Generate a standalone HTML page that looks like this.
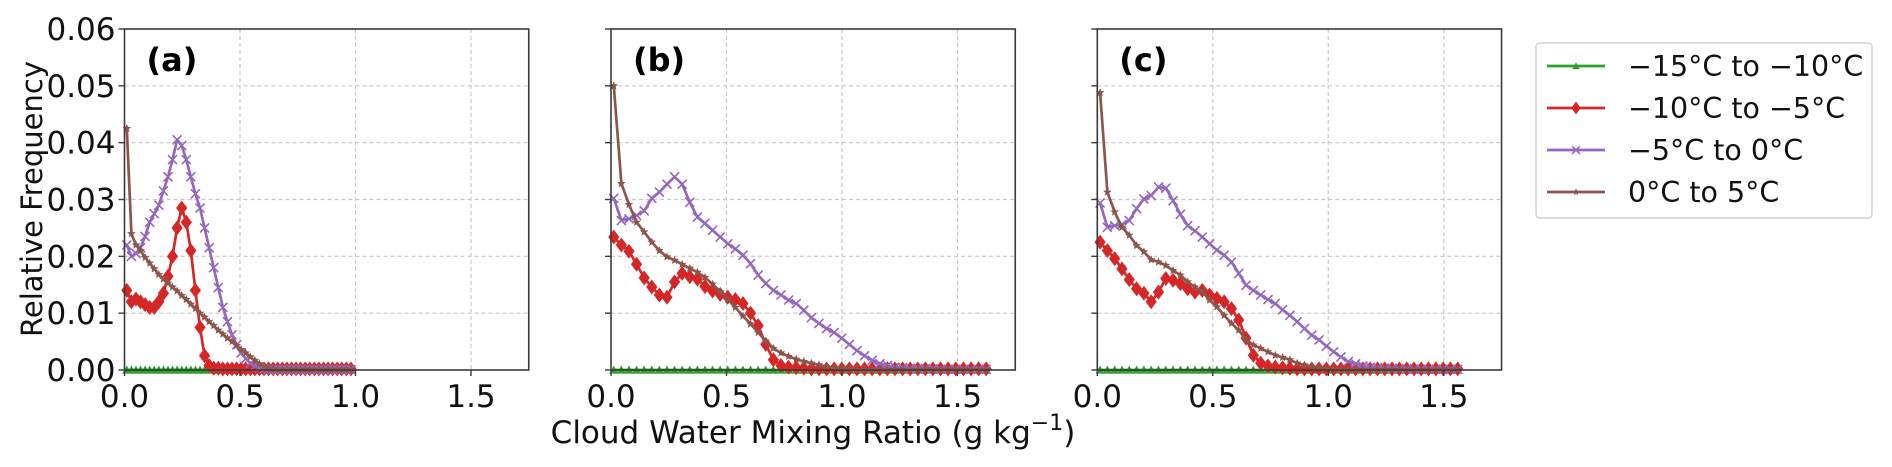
<!DOCTYPE html>
<html><head><meta charset="utf-8"><style>
html,body{margin:0;padding:0;background:#fff;}
svg{display:block;font-family:"DejaVu Sans","Liberation Sans",sans-serif;}
</style></head><body>
<svg id="chart" width="1892" height="467" viewBox="0 0 1892 467" xmlns="http://www.w3.org/2000/svg"></svg>
<script>
const panelLabels = ["(a)", "(b)", "(c)"];
const binWidths = [0.0198, 0.0329, 0.0316];
const binStarts = [0.01, 0.012, 0.012];
const xTicks = [0.0, 0.5, 1.0, 1.5];
const xTickLabels = ["0.0", "0.5", "1.0", "1.5"];
const yTicks = [0, 0.01, 0.02, 0.03, 0.04, 0.05, 0.06];
const yTickLabels = ["0.00", "0.01", "0.02", "0.03", "0.04", "0.05", "0.06"];
const seriesNames = ["\u221215\u00b0C to \u221210\u00b0C", "\u221210\u00b0C to \u22125\u00b0C", "\u22125\u00b0C to 0\u00b0C", "0\u00b0C to 5\u00b0C"];

const greenA = [0,0,0,0,0,0,0,0,0,0,0,0,0,0,0,0,0,0,0,0,0,0,0,0,0,0,0,0,0,0,0,0,0,0,0,0,0,0,0,0,0,0,0,0,0,0,0,0,0,0];
const redA = [.014,.012,.0125,.012,.0115,.011,.011,.012,.0135,.0165,.020,.025,.0285,.026,.021,.014,.0075,.0025,.0008,.0003,.0003,.0002,.0002,.0002,.0002,.0002,.0002,.0002,.0002,.0002,.0002,.0002,.0002,.0002,.0002,.0002,.0002,.0002,.0002,.0002,.0002,.0002,.0002,.0002,.0002,.0002,.0002,.0002,.0002,.0002];
const purpleA = [.022,.020,.0205,.0215,.0235,.026,.0275,.029,.0315,.034,.037,.0405,.0395,.037,.034,.031,.0285,.025,.0215,.018,.0145,.011,.0085,.0062,.0044,.003,.002,.0012,.0007,.0004,.0002,.0001,.0001,.0001,.0001,.0001,.0001,.0001,.0001,.0001,.0001,.0001,.0001,.0001,.0001,.0001,.0001,.0001,.0001,.0001];
const brownA = [.0425,.024,.022,.021,.0198,.0188,.0178,.0168,.016,.0153,.0146,.0139,.0131,.0124,.0116,.0108,.010,.0093,.0085,.0078,.007,.0063,.0056,.005,.0043,.0036,.003,.0023,.0017,.0011,.0006,.0003,.0002,.0001,.0001,.0001,.0001,.0001,.0001,.0001,.0001,.0001,.0001,.0001,.0001,.0001,.0001,.0001,.0001,.0001];

const greenB = [0,0,0,0,0,0,0,0,0,0,0,0,0,0,0,0,0,0,0,0,0,0,0,0,0,0,0,0,0,0,0,0,0,0,0,0,0,0,0,0,0,0,0,0,0,0,0,0,0,0];
const redB = [.0234,.022,.0209,.0186,.0162,.0146,.0132,.0128,.0155,.017,.0164,.016,.0147,.0139,.0133,.0128,.0124,.0117,.010,.0078,.0045,.0018,.0008,.0005,.0004,.0003,.0002,.0002,.0002,.0002,.0002,.0002,.0002,.0002,.0002,.0002,.0002,.0002,.0002,.0002,.0002,.0002,.0002,.0002,.0002,.0002,.0002,.0002,.0002,.0002];
const purpleB = [.0302,.0263,.0266,.0272,.028,.0302,.0313,.0327,.034,.0327,.0295,.0269,.0258,.0246,.0234,.0222,.0213,.0202,.0187,.0167,.0152,.014,.0132,.0123,.0117,.0105,.0092,.0082,.0073,.0066,.0056,.0045,.0034,.0025,.0017,.0011,.0008,.0005,.0004,.0003,.0003,.0002,.0002,.0001,.0001,.0001,.0001,.0001,.0001,.0001];
const brownB = [.050,.0328,.0291,.026,.0243,.0225,.021,.0199,.0193,.0186,.0179,.0172,.0163,.0151,.0138,.0124,.011,.0095,.0081,.0066,.0051,.0038,.003,.0024,.0019,.0015,.0012,.0009,.0006,.0004,.0003,.0002,.0001,.0001,.0001,.0001,.0001,.0001,.0001,.0001,.0001,.0001,.0001,.0001,.0001,.0001,.0001,.0001,.0001,.0001];

const greenC = [0,0,0,0,0,0,0,0,0,0,0,0,0,0,0,0,0,0,0,0,0,0,0,0,0,0,0,0,0,0,0,0,0,0,0,0,0,0,0,0,0,0,0,0,0,0,0,0,0,0];
const redC = [.0225,.021,.0196,.0178,.0159,.0143,.0135,.012,.0137,.0161,.0158,.0152,.0143,.0137,.014,.0132,.0126,.012,.0108,.0088,.0056,.0026,.0012,.0007,.0005,.0004,.0003,.0002,.0002,.0002,.0002,.0002,.0002,.0002,.0002,.0002,.0002,.0002,.0002,.0002,.0002,.0002,.0002,.0002,.0002,.0002,.0002,.0002,.0002,.0002];
const purpleC = [.0294,.0251,.0254,.0256,.0263,.0284,.0301,.0307,.0322,.032,.0298,.0274,.0254,.0245,.0234,.0222,.0211,.0202,.019,.017,.0149,.014,.0132,.0124,.0117,.0106,.0096,.0085,.0073,.0061,.0053,.0042,.0032,.0023,.0015,.0011,.0007,.0005,.0004,.0003,.0003,.0002,.0002,.0001,.0001,.0001,.0001,.0001,.0001,.0001];
const brownC = [.0488,.0313,.0278,.0251,.0237,.0219,.0208,.0194,.019,.0184,.0175,.0167,.0155,.0146,.0138,.0123,.0111,.0096,.0082,.007,.0053,.0044,.0038,.0032,.0026,.0022,.0018,.0012,.0009,.0006,.0004,.0003,.0002,.0001,.0001,.0001,.0001,.0001,.0001,.0001,.0001,.0001,.0001,.0001,.0001,.0001,.0001,.0001,.0001,.0001];

const panelData = [[greenA, redA, purpleA, brownA],[greenB, redB, purpleB, brownB],[greenC, redC, purpleC, brownC]];
const colors = ["#2ca02c", "#d62728", "#9467bd", "#8c564b"];
const markers = ["tri", "dia", "x", "star"];

const NS = "http://www.w3.org/2000/svg";
const svg = document.getElementById("chart");
function mk(tag, attrs, parent) {
  const e = document.createElementNS(NS, tag);
  for (const k in attrs) e.setAttribute(k, attrs[k]);
  (parent || svg).appendChild(e);
  return e;
}
const panelX0 = [124.5, 611, 1097.3];
const pxPerUnit = 231;
const yTop = 29, yBottom = 370;
const XMAX = 1.75, YMAX = 0.06;
function yScale(v) { return yBottom - v / YMAX * (yBottom - yTop); }

function marker(g, type, cx, cy, color, s) {
  s = s || 1;
  if (type === "tri") {
    const r = 4.5 * s;
    mk("polygon", {points: `${cx},${cy - r} ${cx - r},${cy + r * 0.8} ${cx + r},${cy + r * 0.8}`, fill: color}, g);
  } else if (type === "dia") {
    const r = 7.5 * s;
    mk("polygon", {points: `${cx},${cy - r} ${cx + r * 0.75},${cy} ${cx},${cy + r} ${cx - r * 0.75},${cy}`, fill: color}, g);
  } else if (type === "x") {
    const r = 4.5 * s;
    mk("path", {d: `M${cx - r},${cy - r}L${cx + r},${cy + r}M${cx - r},${cy + r}L${cx + r},${cy - r}`, stroke: color, "stroke-width": 1.6, fill: "none"}, g);
  } else {
    const r = 4.5 * s; let pts = [];
    for (let k = 0; k < 10; k++) {
      const a = -Math.PI / 2 + k * Math.PI / 5, rr = k % 2 ? r * 0.45 : r;
      pts.push((cx + rr * Math.cos(a)).toFixed(1) + "," + (cy + rr * Math.sin(a)).toFixed(1));
    }
    mk("polygon", {points: pts.join(" "), fill: color}, g);
  }
}

for (let p = 0; p < 3; p++) {
  const x0 = panelX0[p];
  const xs = v => x0 + v * pxPerUnit;
  const xRight = xs(XMAX);
  const g = mk("g", {});
  
  
  xTicks.forEach(t => { if (t > 0) mk("line", {x1: xs(t), x2: xs(t), y1: yTop, y2: yBottom, stroke: "#c8c8c8", "stroke-width": 1.2, "stroke-dasharray": "4,3"}, g); });
  yTicks.forEach(t => { if (t > 0 && t < YMAX) mk("line", {x1: x0, x2: xRight, y1: yScale(t), y2: yScale(t), stroke: "#c8c8c8", "stroke-width": 1.2, "stroke-dasharray": "4,3"}, g); });
  const data = panelData[p];
  for (let s = 0; s < 4; s++) {
    const sg = mk("g", {}, g);
    
    
    const vals = data[s];
    const pts = vals.map((v, i) => [xs(binStarts[p] + i * binWidths[p]), yScale(v)]);
    mk("polyline", {points: pts.map(q => q[0].toFixed(1) + "," + q[1].toFixed(1)).join(" "), fill: "none", stroke: colors[s], "stroke-width": 2.7, "stroke-linejoin": "round"}, sg);
    pts.forEach(q => marker(sg, markers[s], q[0], q[1], colors[s]));
  }
  const fr = mk("rect", {x: x0, y: yTop, width: xRight - x0, height: yBottom - yTop, fill: "none", stroke: "#3a3a3a", "stroke-width": 1.6}, g);
  
  
  xTicks.forEach((t, i) => {
    mk("line", {x1: xs(t), x2: xs(t), y1: yBottom, y2: yBottom + 6, stroke: "#3a3a3a", "stroke-width": 1.4}, g);
    const tl = mk("text", {x: xs(t), y: yBottom + 37, "text-anchor": "middle", "font-size": 31, fill: "#111"}, g);
    tl.textContent = xTickLabels[i];
    
    
  });
  yTicks.forEach((t, i) => {
    mk("line", {x1: x0 - 6, x2: x0, y1: yScale(t), y2: yScale(t), stroke: "#3a3a3a", "stroke-width": 1.4}, g);
    if (p === 0) {
      const tl = mk("text", {x: x0 - 9, y: yScale(t) + 11, "text-anchor": "end", "font-size": 31, fill: "#111"}, g);
      tl.textContent = yTickLabels[i];
      
      
    }
  });
  const pl = mk("text", {x: x0 + 22, y: 71, "font-size": 32, "font-weight": "bold", fill: "#000"}, g);
  pl.textContent = panelLabels[p];
  
  
}

const yl = mk("text", {x: 0, y: 0, transform: "translate(42,199) rotate(-90)", "text-anchor": "middle", "font-size": 29, fill: "#111"});
yl.textContent = "Relative Frequency";



const xl = mk("text", {x: 813, y: 443, "text-anchor": "middle", "font-size": 31, fill: "#111"});
xl.textContent = "Cloud Water Mixing Ratio (g kg";
const sup = mk("tspan", {dy: -13, "font-size": 22}, xl);
sup.textContent = "\u22121";
const cl = mk("tspan", {dy: 13}, xl);
cl.textContent = ")";



const lg = mk("g", {});


mk("rect", {x: 1536, y: 43, width: 336, height: 175, rx: 4, fill: "#fff", stroke: "#d0d0d0", "stroke-width": 1.4}, lg);
seriesNames.forEach((n, s) => {
  const y = 66 + s * 42;
  const eg = mk("g", {}, lg);
  
  
  mk("line", {x1: 1547, x2: 1605, y1: y, y2: y, stroke: colors[s], "stroke-width": 2.7}, eg);
  marker(eg, markers[s], 1576, y, colors[s], 0.85);
  const t = mk("text", {x: 1628, y: y + 10, "font-size": 28.5, fill: "#111"}, eg);
  t.textContent = n;
});
</script>
</body></html>
